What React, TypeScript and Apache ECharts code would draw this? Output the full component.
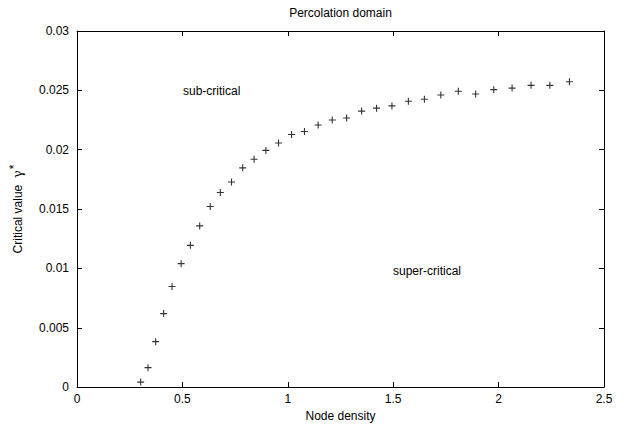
import React, { useEffect, useRef } from "react";
import * as echarts from "echarts";

const nodeDensity = [
  0.302, 0.337, 0.373, 0.411, 0.451, 0.494, 0.538, 0.582, 0.632, 0.68, 0.733,
  0.786, 0.84, 0.896, 0.956, 1.018, 1.079, 1.144, 1.211, 1.279, 1.35, 1.421,
  1.494, 1.572, 1.648, 1.726, 1.809, 1.891, 1.977, 2.064, 2.154, 2.243, 2.336,
];
const criticalValue = [
  0.00042, 0.00164, 0.00383, 0.00619, 0.00848, 0.0104, 0.01194, 0.01358,
  0.01522, 0.01639, 0.01728, 0.01847, 0.01919, 0.01994, 0.02056, 0.02128,
  0.02153, 0.02208, 0.0225, 0.02267, 0.02325, 0.0235, 0.02369, 0.02408,
  0.02425, 0.02461, 0.02492, 0.02469, 0.02506, 0.02519, 0.02542, 0.02542,
  0.02572,
];
const xTicks = { min: 0, max: 2.5, interval: 0.5 };
const yTicks = { min: 0, max: 0.03, interval: 0.005 };

const FONT = "Liberation Sans";
const FS = 12;
const PLUS =
  "path://M-0.55,-3.5 L0.55,-3.5 L0.55,-0.55 L3.5,-0.55 L3.5,0.55 L0.55,0.55 L0.55,3.5 L-0.55,3.5 L-0.55,0.55 L-3.5,0.55 L-3.5,-0.55 L-0.55,-0.55 Z";

export default function App() {
  const ref = useRef<HTMLDivElement>(null);
  useEffect(() => {
    if (!ref.current) return;
    const chart = echarts.init(ref.current, null, { renderer: "svg" });
    const axisLine = { show: true, onZero: false, lineStyle: { color: "#000", width: 1 } };
    const axisTick = { show: true, inside: true, length: 5, lineStyle: { color: "#000" } };
    const label = { color: "#000", fontFamily: FONT, fontSize: FS };
    const txt = (text: string, x: number, y: number, align: string) => ({
      type: "text",
      x,
      y,
      style: {
        text,
        fill: "#000",
        font: `${FS}px "${FONT}"`,
        textAlign: align,
        textVerticalAlign: "middle",
      },
    });
    chart.setOption({
      animation: false,
      backgroundColor: "#fff",
      grid: { left: 77, right: 20, top: 31, bottom: 36, containLabel: false },
      xAxis: [
        {
          type: "value",
          ...xTicks,
          position: "bottom",
          axisLine,
          axisTick,
          splitLine: { show: false },
          axisLabel: { ...label, margin: 6 },
          name: "Node density",
          nameLocation: "middle",
          nameGap: 21,
          nameTextStyle: { ...label },
        },
        {
          type: "value",
          ...xTicks,
          position: "top",
          axisLine,
          axisTick,
          splitLine: { show: false },
          axisLabel: { show: false },
        },
      ],
      yAxis: [
        {
          type: "value",
          ...yTicks,
          position: "left",
          axisLine,
          axisTick,
          splitLine: { show: false },
          axisLabel: { ...label, margin: 8 },
          name: "Critical value  {g|γ}{s|*}",
          nameLocation: "middle",
          nameGap: 50,
          nameRotate: 90,
          nameTextStyle: {
            ...label,
            rich: {
              g: { fontFamily: "DejaVu Serif", fontSize: 13, color: "#000" },
              s: { fontFamily: FONT, fontSize: FS, color: "#000", padding: [0, 0, 7, 1] },
            },
          },
        },
        {
          type: "value",
          ...yTicks,
          position: "right",
          axisLine,
          axisTick,
          splitLine: { show: false },
          axisLabel: { show: false },
        },
      ],
      graphic: [
        txt("Percolation domain", 340.5, 13, "center"),
        txt("sub-critical", 183, 91, "left"),
        txt("super-critical", 393, 271, "left"),
      ],
      series: [
        {
          type: "scatter",
          xAxisIndex: 0,
          yAxisIndex: 0,
          symbol: PLUS,
          symbolSize: 7,
          itemStyle: { color: "#000" },
          data: nodeDensity.map((x, i) => [x, criticalValue[i]]),
        },
      ],
    });
    return () => chart.dispose();
  }, []);
  return (
    <div
      ref={ref}
      style={{ position: "fixed", left: 0, top: 0, width: 624, height: 427 }}
    />
  );
}
